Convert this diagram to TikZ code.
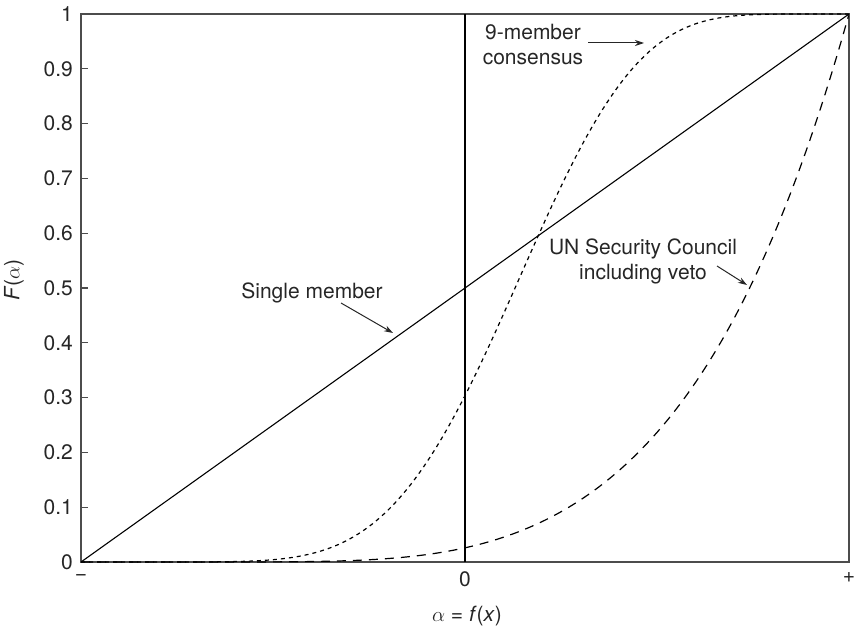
\documentclass[tikz,border=0pt]{standalone}
\usepackage{fontspec}
\setmainfont{TeX Gyre Heros}
\usetikzlibrary{arrows.meta}
% binomial acceptance curves, evaluated in full precision with l3fp;
% #1 is alpha in [-1,1], the yes-probability of each member is (alpha+1)/2
\newcommand\ninecurve[1]{\fpeval{round(
   5005*((#1+1)/2)^9*((1-(#1))/2)^6 + 3003*((#1+1)/2)^10*((1-(#1))/2)^5
 + 1365*((#1+1)/2)^11*((1-(#1))/2)^4 + 455*((#1+1)/2)^12*((1-(#1))/2)^3
 + 105*((#1+1)/2)^13*((1-(#1))/2)^2 + 15*((#1+1)/2)^14*((1-(#1))/2)
 + ((#1+1)/2)^15, 5)}}
\newcommand\unsccurve[1]{\fpeval{round(
   ((#1+1)/2)^5*(1 - ((1-(#1))/2)^10 - 10*((#1+1)/2)*((1-(#1))/2)^9
   - 45*((#1+1)/2)^2*((1-(#1))/2)^8 - 120*((#1+1)/2)^3*((1-(#1))/2)^7), 5)}}
\begin{document}
\begin{tikzpicture}[x=1pt,y=1pt,
  lbl/.style={font=\fontsize{21}{25}\selectfont, text=black!85, inner sep=0pt},
  frame/.style={draw=black!70, line width=1.4pt},
  callout/.style={draw=black!85, line width=1pt, -{Stealth[length=9pt,width=6pt]}},
  curveA/.style={line width=1.2pt, dash pattern=on 4pt off 4pt},
  curveB/.style={line width=1.2pt, dash pattern=on 9pt off 7pt},
]
\useasboundingbox (0,0) rectangle (856,625);

% plot frame and y ticks
\draw[frame] (81,63) rectangle (849,611);
\foreach \v/\t in {0/0,1/0.1,2/0.2,3/0.3,4/0.4,5/0.5,6/0.6,7/0.7,8/0.8,9/0.9,10/1}{
  \draw[frame, line width=1.2pt] (81,63+54.8*\v) -- (88,63+54.8*\v);
  \node[lbl, anchor=east] (yt\v) at (73,63+54.8*\v) {\t};
}

% x tick labels and axis titles
\node[lbl] (xm) at (81,47) {−};
\node[lbl] (x0) at (465,46) {0};
\node[lbl] (xp) at (849,47) {+};
\node[lbl] (xlab) at (467,9) {$\alpha$ = \textit{f}(\textit{x})};
\node[lbl, rotate=90] (ylab) at (14,345) {\textit{F}($\alpha$)};

% alpha = 0
\draw[line width=2.6pt] (465,63) -- (465,611);

% curves
\begin{scope}[shift={(465,63)}, x=384pt, y=548pt]
  \draw[line width=1.1pt] (-1,0) -- (1,1);
  \draw[curveA] plot[domain=-1:1, samples=201] (\x,{\ninecurve{\x}});
  \draw[curveB] plot[domain=-1:1, samples=201] (\x,{\unsccurve{\x}});
\end{scope}

% callouts
\node[lbl] (single) at (312,332) {Single member};
\coordinate (singleTip) at (393,292);
\draw[callout] (341,322) -- (singleTip);

\node[lbl, align=center] (nineLbl) at (533,580) {9-member\\consensus};
\coordinate (nineTip) at (644,582);
\draw[callout] (588,582) -- (nineTip);

\node[lbl, align=center] (unLbl) at (643,364) {UN Security Council\\including veto};
\coordinate (unTip) at (747,340);
\draw[callout] (717,359) -- (unTip);
\end{tikzpicture}
\end{document}
